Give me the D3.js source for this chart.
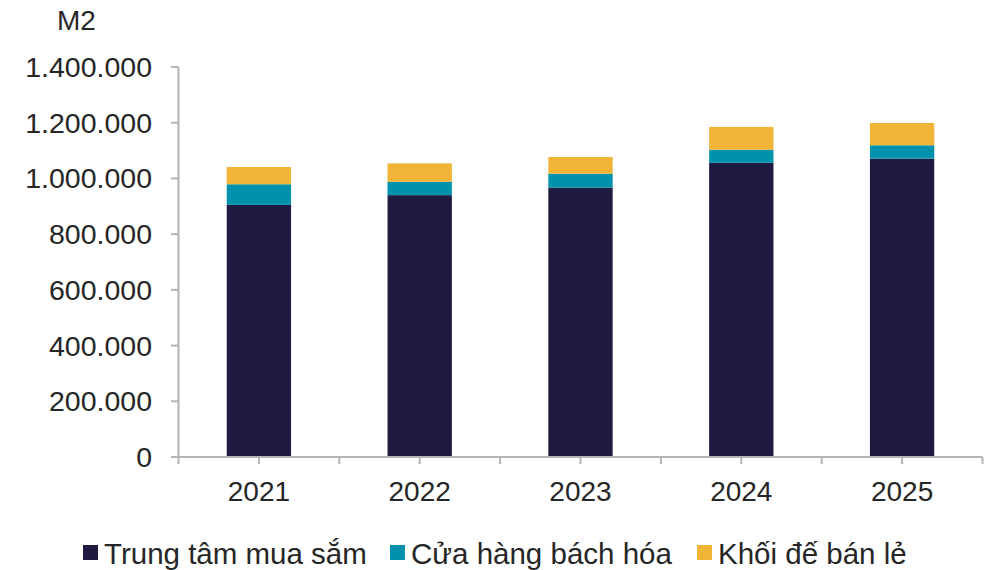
<!DOCTYPE html>
<html>
<head>
<meta charset="utf-8">
<script src="https://cdn.jsdelivr.net/npm/d3@7"></script>
<style>
  body { margin: 0; background: #fff; }
  text { font-family: "Liberation Sans", Arial, sans-serif; fill: #262626; }
</style>
</head>
<body>
<div id="chart"></div>
<script>
const years = ['2021', '2022', '2023', '2024', '2025']
const seriesNames = ['Trung tâm mua sắm', 'Cửa hàng bách hóa', 'Khối đế bán lẻ']
const shoppingCenter = [905000, 940000, 967000, 1056000, 1071000]
const departmentStore = [74000, 48000, 50000, 47000, 48000]
const retailPodium = [62000, 66000, 60000, 82000, 80000]
const yTicks = [0, 200000, 400000, 600000, 800000, 1000000, 1200000, 1400000]
const colors = ['#1e1a40', '#0092ad', '#f0b437']

const width = 1000
const height = 570

const svg = d3.select('#chart')
  .append('svg')
  .attr('width', width)
  .attr('height', height)

const x = d3.scaleBand()
  .domain(years)
  .range([178.5, 982.5])
  .paddingInner(0.6)
  .paddingOuter(0.3)

const y = d3.scaleLinear()
  .domain([0, 1400000])
  .range([457, 67])

const vn = d3.formatLocale({decimal: ',', thousands: '.', grouping: [3], currency: ['', '']})
const fmt = vn.format(',')

//stack the three series
const rows = years.map((yr, i) => ({
  year: yr, s0: shoppingCenter[i], s1: departmentStore[i], s2: retailPodium[i]
}))
const stack = d3.stack().keys(['s0', 's1', 's2'])
const layers = stack(rows)

svg.append('g')
  .selectAll('g')
  .data(layers)
  .enter()
  .append('g')
  .attr('fill', (d, i) => colors[i])
  .selectAll('rect')
  .data(d => d)
  .enter()
  .append('rect')
  .attr('x', d => x(d.data.year))
  .attr('width', x.bandwidth())
  .attr('y', d => y(d[1]))
  .attr('height', d => y(d[0]) - y(d[1]))

//y axis
const axisColor = '#b3b3b3'
const yAxis = svg.append('g')
yAxis.append('line')
  .attr('x1', 178.5).attr('x2', 178.5)
  .attr('y1', y(1400000)).attr('y2', y(0))
  .attr('stroke', axisColor).attr('stroke-width', 2)
yAxis.selectAll('.tick')
  .data(yTicks)
  .enter()
  .append('line')
  .attr('x1', 171).attr('x2', 178.5)
  .attr('y1', d => y(d)).attr('y2', d => y(d))
  .attr('stroke', axisColor).attr('stroke-width', 2)
yAxis.selectAll('text')
  .data(yTicks)
  .enter()
  .append('text')
  .attr('x', 152)
  .attr('y', d => y(d))
  .attr('dy', '0.35em')
  .attr('text-anchor', 'end')
  .style('font-size', '28.5px')
  .text(d => fmt(d))

svg.append('text')
  .attr('x', 57)
  .attr('y', 30)
  .style('font-size', '28px')
  .text('M2')

//x axis
const xAxis = svg.append('g')
xAxis.append('line')
  .attr('x1', 178.5).attr('x2', 982.5)
  .attr('y1', y(0)).attr('y2', y(0))
  .attr('stroke', axisColor).attr('stroke-width', 2)
const step = x.step()
const xTickPos = d3.range(0, 11).map(k => 178.5 + k * step / 2)
xAxis.selectAll('.tick')
  .data(xTickPos)
  .enter()
  .append('line')
  .attr('x1', d => d).attr('x2', d => d)
  .attr('y1', y(0)).attr('y2', y(0) + 7)
  .attr('stroke', axisColor).attr('stroke-width', 2)
xAxis.selectAll('text')
  .data(years)
  .enter()
  .append('text')
  .attr('x', d => x(d) + x.bandwidth() / 2)
  .attr('y', 501)
  .attr('text-anchor', 'middle')
  .style('font-size', '28px')
  .text(d => d)

//legend
const legendX = [83, 390, 697]
const legend = svg.append('g')
  .selectAll('g')
  .data(seriesNames)
  .enter()
  .append('g')
  .attr('transform', (d, i) => `translate(${legendX[i]},545)`)
legend.append('rect')
  .attr('width', 15).attr('height', 15)
  .attr('fill', (d, i) => colors[i])
legend.append('text')
  .attr('x', 21)
  .attr('y', 8)
  .attr('dy', '0.36em')
  .style('font-size', '29.5px')
  .text(d => d)
</script>
</body>
</html>
